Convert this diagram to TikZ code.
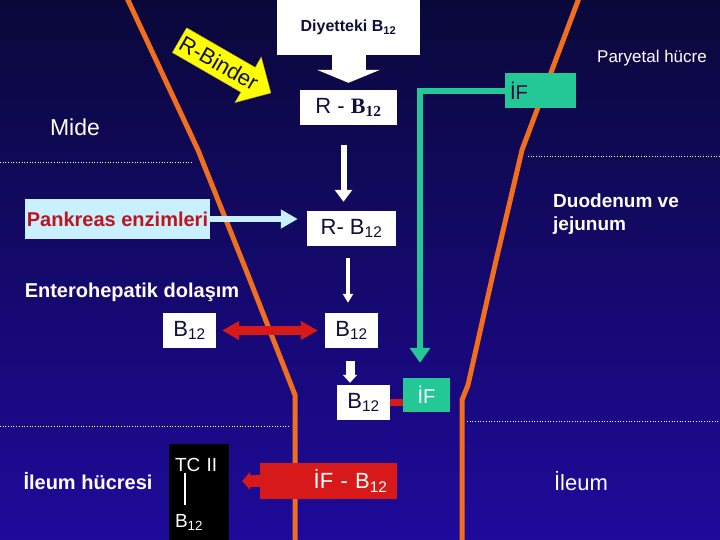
\documentclass[tikz,border=0pt]{standalone}
\usepackage{fontspec}
\setmainfont{Liberation Sans}
\newfontfamily\timesfont{Liberation Serif}
\usepackage{tikz}
\usetikzlibrary{arrows.meta,shapes.arrows}

\definecolor{navybg}{RGB}{10,8,58}
\definecolor{bluebg}{RGB}{30,10,155}
\definecolor{gutorange}{RGB}{240,110,30}
\definecolor{ifgreen}{RGB}{35,200,150}
\definecolor{boxtext}{RGB}{15,15,60}
\definecolor{pankred}{RGB}{190,20,30}
\definecolor{pankcyan}{RGB}{200,240,255}
\definecolor{bindyellow}{RGB}{255,255,0}
\definecolor{linkred}{RGB}{215,25,25}

\begin{document}
\begin{tikzpicture}[
  wbox/.style={fill=white,text=boxtext,inner sep=0pt,font=\fontsize{22bp}{24bp}\selectfont},
  ifbox/.style={fill=ifgreen,inner sep=0pt,font=\fontsize{20bp}{24bp}\selectfont},
  txt/.style={text=white,inner sep=0pt},
  gutline/.style={gutorange,line width=5bp,line join=round},
  sepline/.style={white,dotted,line width=0.7bp}]

\clip (0bp,0bp) rectangle (720bp,-540bp);
\shade[top color=navybg,bottom color=bluebg] (0bp,0bp) rectangle (720bp,-540bp);

\draw[gutline] (127bp,2bp) -- (198bp,-150bp) -- (248bp,-275bp) -- (295bp,-395bp) -- (295bp,-545bp);
\draw[gutline] (579bp,2bp) -- (522bp,-150bp) -- (495bp,-265bp) -- (468bp,-385bp) -- (462bp,-400bp) -- (462bp,-545bp);

\draw[sepline] (0bp,-162bp) -- (193bp,-162bp);
\draw[sepline] (528bp,-156bp) -- (720bp,-156bp);
\draw[sepline] (0bp,-426bp) -- (290bp,-426bp);
\draw[sepline] (467bp,-421bp) -- (720bp,-421bp);

\node (diet) at (348.5bp,-27.5bp)[wbox,minimum width=143bp,minimum height=55bp,font=\bfseries\fontsize{16bp}{18bp}\selectfont] {Diyetteki B\textsubscript{12}};
\node (rba) at (348.5bp,-107.5bp)[wbox,minimum width=97bp,minimum height=35bp] {R - {\timesfont\bfseries B\textsubscript{12}}};
\node (ifa) at (540.5bp,-90.5bp)[ifbox,text=boxtext,minimum width=71bp,minimum height=35bp,text width=61bp,align=left] {İF};
\node (paryetal) at (652bp,-58bp)[txt,font=\fontsize{17bp}{20bp}\selectfont] {Paryetal hücre};
\node (mide) at (75bp,-127bp)[txt,font=\fontsize{23bp}{26bp}\selectfont] {Mide};
\node (binder) at (219bp,-63bp)[single arrow,fill=bindyellow,draw=yellow!70!black,rotate=-30,text=boxtext,inner ysep=6bp,inner xsep=2bp,single arrow head extend=12bp,font=\fontsize{22bp}{24bp}\selectfont] {R-Binder};

\node (pank) at (117.5bp,-219bp)[fill=pankcyan,text=pankred,minimum width=185bp,minimum height=40bp,inner sep=0pt,font=\bfseries\fontsize{20bp}{22bp}\selectfont] {Pankreas enzimleri};
\node (rbb) at (351.5bp,-228.5bp)[wbox,minimum width=89bp,minimum height=35bp] {R- B\textsubscript{12}};
\node (duo) at (553bp,-214bp)[txt,anchor=west,align=left,font=\bfseries\fontsize{19bp}{23bp}\selectfont] {Duodenum ve\\jejunum};

\node (entero) at (132bp,-292bp)[txt,font=\bfseries\fontsize{20bp}{22bp}\selectfont] {Enterohepatik dolaşım};
\node (bla) at (189.5bp,-330.5bp)[wbox,minimum width=53bp,minimum height=35bp] {B\textsubscript{12}};
\node (blb) at (351.5bp,-330.5bp)[wbox,minimum width=53bp,minimum height=35bp] {B\textsubscript{12}};
\node (blc) at (363.5bp,-402.5bp)[wbox,minimum width=53bp,minimum height=35bp] {B\textsubscript{12}};
\node (ifb) at (426.5bp,-395bp)[ifbox,text=white,minimum width=47bp,minimum height=34bp] {İF};

\node (cell) at (88bp,-481bp)[txt,font=\bfseries\fontsize{20bp}{22bp}\selectfont] {İleum hücresi};
\node (tc) at (199bp,-444bp)[anchor=north,fill=black,text=white,minimum width=60bp,minimum height=100bp,inner sep=0pt,text width=48bp,align=left,font=\fontsize{19bp}{22bp}\selectfont] {TC II\\[1bp]\hspace*{9bp}\rule{2bp}{32bp}\\B\textsubscript{12}};
\node (ifbtwelve) at (328.5bp,-481bp)[fill=linkred,text=white,minimum width=137bp,minimum height=36bp,inner sep=0pt,text width=118bp,align=right,font=\fontsize{22bp}{24bp}\selectfont] {İF - B\textsubscript{12}};
\node (ileum) at (581bp,-481bp)[txt,font=\fontsize{22bp}{24bp}\selectfont] {İleum};

\draw [white,line width=34bp,-{Triangle[length=13bp,width=63bp,line width=0pt]}] (diet.south) -- ([yshift=7bp]rba.north);
\draw [white,line width=6bp,-{Triangle[length=12bp,width=17bp]},shorten <=20bp,shorten >=9bp] ([xshift=-5bp]rba.south) -- ([xshift=-5bp]rba.south |- rbb.north);
\draw [pankcyan,line width=6bp,-{Triangle[length=17bp,width=18bp]},shorten >=9bp] (pank.east) -- (pank.east -| rbb.west);
\draw [white,line width=4bp,-{Triangle[length=9bp,width=10bp]},shorten <=12bp,shorten >=10bp] ([xshift=-3.5bp]rbb.south) -- ([xshift=-3.5bp]rbb.south |- blb.north);
\draw [linkred,line width=9bp,{Triangle[length=17bp,width=18bp]}-{Triangle[length=17bp,width=18bp]},shorten <=6bp,shorten >=7bp] (bla) -- (blb);
\draw [white,line width=9bp,-{Triangle[length=8bp,width=14bp]},shorten <=13bp,shorten >=2bp] ([xshift=-1.5bp]blb.south) -- ([xshift=-1.5bp]blb.south |- blc.north);
\draw [linkred,line width=7bp] (blc.east) -- (blc.east -| ifb.west);
\draw [ifgreen,line width=6bp,-{Triangle[length=15bp,width=20bp]}] (ifa.west) -| ([xshift=-6.5bp,yshift=15bp]ifb.north);
\draw [linkred,line width=12bp,-{Triangle[length=8bp,width=18bp]},shorten >=13bp] (ifbtwelve.west) -- (ifbtwelve.west -| tc.east);
\end{tikzpicture}
\end{document}
